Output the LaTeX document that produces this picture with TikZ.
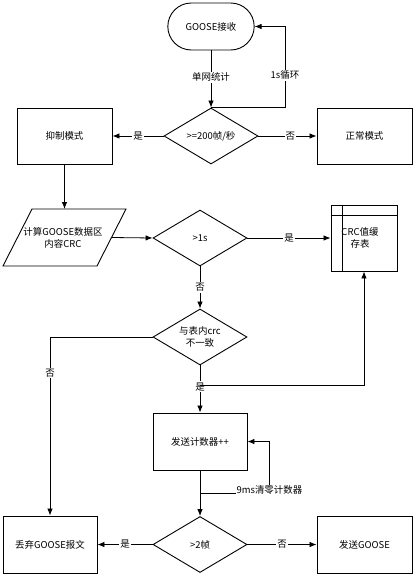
\documentclass[tikz,border=0pt]{standalone}
\usepackage{fontspec}
\newfontfamily\cjk{Noto Sans CJK SC}
\usetikzlibrary{shapes.geometric,shapes.misc,arrows.meta,calc}
\begin{document}
\begin{tikzpicture}[x=1bp,y=-1bp,
  every node/.style={font=\cjk\fontsize{9.5}{12}\selectfont},
  ln/.style={line width=0.8bp},
  arr/.style={line width=0.8bp,-{Latex[length=7bp,width=5.5bp]}},
  boxn/.style={draw,line width=0.9bp,minimum width=95bp,minimum height=56bp,inner sep=1bp},
  dia/.style={draw,line width=0.9bp,diamond,aspect=1.66,minimum width=94bp,minimum height=56bp,inner sep=0pt,align=center},
  lbl/.style={fill=white,inner sep=1bp}]
\useasboundingbox (0,0) rectangle (415,576);
% nodes
\node[draw,line width=0.9bp,rounded rectangle,minimum width=93bp,minimum height=47bp] (goose) at (211,26.5) {GOOSE接收};
\node[dia] (d1) at (211,136) {>=200帧/秒};
\node[boxn] (sup) at (64.5,136) {抑制模式};
\node[boxn] (norm) at (364.5,136) {正常模式};
\draw[line width=0.9bp] (32,209) -- (126,209) -- (97,266) -- (3,266) -- cycle;
\node[align=center] (para) at (63,237.5) {计算GOOSE数据区\\内容CRC};
\coordinate (paraT) at (64.5,209);
\coordinate (paraR) at (111.5,237.5);
\node[dia] (d2) at (200,238) {>1s};
\node[draw,line width=0.9bp,minimum width=66bp,minimum height=66bp] (crc) at (364,238) {};
\draw[ln] ($(crc.north west)+(0,11)$) -- ($(crc.north east)+(0,11)$);
\draw[ln] ($(crc.north west)+(12,0)$) -- ($(crc.south west)+(12,0)$);
\node[align=center] (crct) at (360,238) {CRC值缓\\存表};
\node[dia] (d3) at (200,337) {与表内crc\\不一致};
\node[boxn,minimum width=94bp,minimum height=57bp] (cnt) at (200,441.5) {发送计数器++};
\node[dia] (d4) at (200,544.5) {>2帧};
\node[boxn,minimum width=94bp,minimum height=57bp] (drop) at (50,544.5) {丢弃GOOSE报文};
\node[boxn,minimum height=57bp] (send) at (364.5,544.5) {发送GOOSE};
% connectors
\draw[arr] (goose.south) -- (d1.north) node[lbl,pos=0.47] {单网统计};
\draw[arr] (d1.north) -- ++(74,0) |- (goose.east) node[lbl,pos=0.2] {1s循环};
\draw[arr] (d1.west) -- (sup.east) node[lbl,pos=0.5] {是};
\draw[arr] (d1.east) -- (norm.west) node[lbl,pos=0.55] {否};
\draw[arr] (sup.south) -- (paraT);
\draw[arr] (paraR) -- (d2.west);
\draw[arr] (d2.east) -- (crc.west) node[lbl,pos=0.5] {是};
\draw[arr] (d2.south) -- (d3.north) node[lbl,pos=0.5] {否};
\draw[arr] (d3.west) -| (drop.north) node[lbl,pos=0.6] {否};
\coordinate (j1) at (200,385.5);
\draw[arr] (d3.south) -- (cnt.north) node[lbl,pos=0.45] {是};
\draw[arr] (j1) -| (crc.south);
\coordinate (j2) at (200,493);
\draw[arr] (cnt.south) -- (d4.north);
\draw[arr] (j2) -| ($(cnt.east)+(22,0)$) node[lbl,pos=0.5,yshift=3bp] {9ms清零计数器} -- (cnt.east);
\draw[arr] (d4.west) -- (drop.east) node[lbl,pos=0.5] {是};
\draw[arr] (d4.east) -- (send.west) node[lbl,pos=0.5] {否};
\end{tikzpicture}
\end{document}
